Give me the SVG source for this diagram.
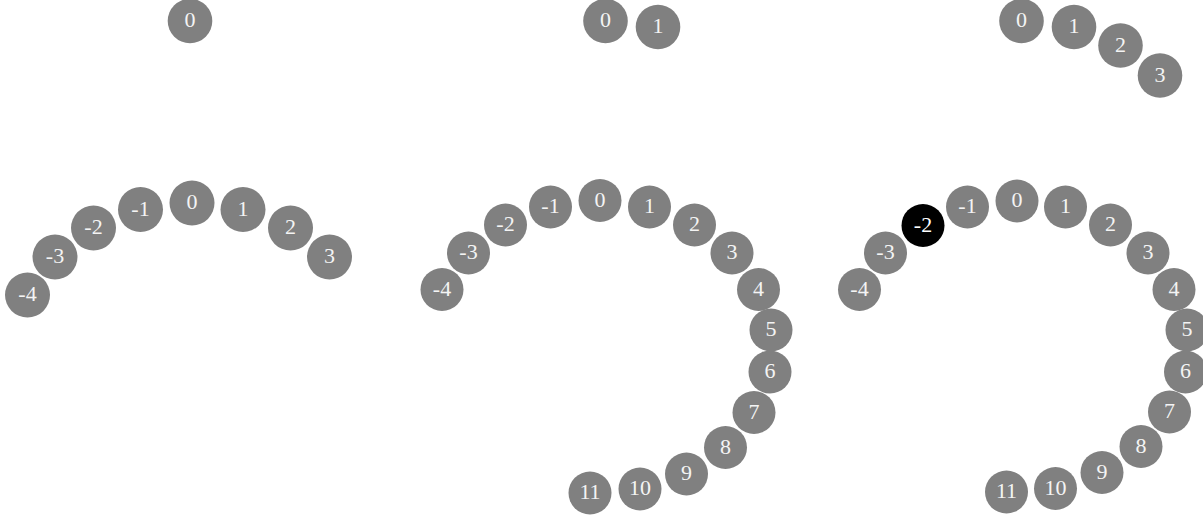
<svg xmlns="http://www.w3.org/2000/svg" width="1203" height="518" viewBox="0 0 1203 518">
<style>
.n circle{fill:#808080}
.n.sel circle{fill:#000000}
.n text{fill:#f4f4f4;font-family:"Liberation Serif","DejaVu Serif",serif;font-size:22px;text-anchor:middle;dominant-baseline:central}
.n.sel text{fill:#ffffff}
</style>
<rect width="1203" height="518" fill="#ffffff"/>
<!-- panel 1 -->
<g id="p1">
<g id="p1-n0" class="n"><circle cx="190" cy="21" r="22.3"/><text x="190" y="19.5">0</text></g>
</g>
<!-- panel 2 -->
<g id="p2">
<g id="p2-n0" class="n"><circle cx="605.5" cy="21" r="22.3"/><text x="605.5" y="19.5">0</text></g>
<g id="p2-n1" class="n"><circle cx="658" cy="27" r="22.3"/><text x="658" y="25.5">1</text></g>
</g>
<!-- panel 3 -->
<g id="p3">
<g id="p3-n0" class="n"><circle cx="1021.5" cy="21" r="22.3"/><text x="1021.5" y="19.5">0</text></g>
<g id="p3-n1" class="n"><circle cx="1074" cy="27" r="22.3"/><text x="1074" y="25.5">1</text></g>
<g id="p3-n2" class="n"><circle cx="1120.5" cy="45.5" r="22.3"/><text x="1120.5" y="44">2</text></g>
<g id="p3-n3" class="n"><circle cx="1160" cy="75.5" r="22.3"/><text x="1160" y="74">3</text></g>
</g>
<!-- panel 4 -->
<g id="p4">
<g id="p4-nm4" class="n"><circle cx="27.5" cy="295" r="22.5"/><text x="27.5" y="293.5">-4</text></g>
<g id="p4-nm3" class="n"><circle cx="55" cy="257" r="22.5"/><text x="55" y="255.5">-3</text></g>
<g id="p4-nm2" class="n"><circle cx="93.5" cy="228" r="22.5"/><text x="93.5" y="226.5">-2</text></g>
<g id="p4-nm1" class="n"><circle cx="140.5" cy="209.5" r="22.5"/><text x="140.5" y="208">-1</text></g>
<g id="p4-n0" class="n"><circle cx="192" cy="203" r="22.5"/><text x="192" y="201.5">0</text></g>
<g id="p4-n1" class="n"><circle cx="243" cy="209.5" r="22.5"/><text x="243" y="208">1</text></g>
<g id="p4-n2" class="n"><circle cx="290.5" cy="228" r="22.5"/><text x="290.5" y="226.5">2</text></g>
<g id="p4-n3" class="n"><circle cx="329.5" cy="257" r="22.5"/><text x="329.5" y="255.5">3</text></g>
</g>
<!-- panel 5 -->
<g id="p5">
<g id="p5-nm4" class="n"><circle cx="442" cy="289.5" r="21.5"/><text x="442" y="288">-4</text></g>
<g id="p5-nm3" class="n"><circle cx="468.5" cy="253" r="21.5"/><text x="468.5" y="251.5">-3</text></g>
<g id="p5-nm2" class="n"><circle cx="505.5" cy="225" r="21.5"/><text x="505.5" y="223.5">-2</text></g>
<g id="p5-nm1" class="n"><circle cx="550.5" cy="207" r="21.5"/><text x="550.5" y="205.5">-1</text></g>
<g id="p5-n0" class="n"><circle cx="600" cy="200.5" r="21.5"/><text x="600" y="199">0</text></g>
<g id="p5-n1" class="n"><circle cx="649.5" cy="207" r="21.5"/><text x="649.5" y="205.5">1</text></g>
<g id="p5-n2" class="n"><circle cx="694.5" cy="225" r="21.5"/><text x="694.5" y="223.5">2</text></g>
<g id="p5-n3" class="n"><circle cx="732" cy="253" r="21.5"/><text x="732" y="251.5">3</text></g>
<g id="p5-n4" class="n"><circle cx="758.5" cy="289.5" r="21.5"/><text x="758.5" y="288">4</text></g>
<g id="p5-n5" class="n"><circle cx="771" cy="330" r="21.5"/><text x="771" y="328.5">5</text></g>
<g id="p5-n6" class="n"><circle cx="770" cy="372" r="21.5"/><text x="770" y="370.5">6</text></g>
<g id="p5-n7" class="n"><circle cx="754" cy="412.5" r="21.5"/><text x="754" y="411">7</text></g>
<g id="p5-n8" class="n"><circle cx="725.5" cy="447.5" r="21.5"/><text x="725.5" y="446">8</text></g>
<g id="p5-n9" class="n"><circle cx="686.5" cy="474" r="21.5"/><text x="686.5" y="472.5">9</text></g>
<g id="p5-n10" class="n"><circle cx="640" cy="489" r="21.5"/><text x="640" y="487.5">10</text></g>
<g id="p5-n11" class="n"><circle cx="590" cy="493" r="21.5"/><text x="590" y="491.5">11</text></g>
</g>
<!-- panel 6 -->
<g id="p6">
<g id="p6-nm4" class="n"><circle cx="859.5" cy="289.5" r="21.5"/><text x="859.5" y="288">-4</text></g>
<g id="p6-nm3" class="n"><circle cx="885.5" cy="253" r="21.5"/><text x="885.5" y="251.5">-3</text></g>
<g id="p6-nm2" class="n sel"><circle cx="923" cy="225.5" r="21.5"/><text x="923" y="224">-2</text></g>
<g id="p6-nm1" class="n"><circle cx="967.5" cy="207" r="21.5"/><text x="967.5" y="205.5">-1</text></g>
<g id="p6-n0" class="n"><circle cx="1017" cy="201" r="21.5"/><text x="1017" y="199.5">0</text></g>
<g id="p6-n1" class="n"><circle cx="1065.5" cy="207" r="21.5"/><text x="1065.5" y="205.5">1</text></g>
<g id="p6-n2" class="n"><circle cx="1110.5" cy="225" r="21.5"/><text x="1110.5" y="223.5">2</text></g>
<g id="p6-n3" class="n"><circle cx="1148" cy="253" r="21.5"/><text x="1148" y="251.5">3</text></g>
<g id="p6-n4" class="n"><circle cx="1174" cy="289.5" r="21.5"/><text x="1174" y="288">4</text></g>
<g id="p6-n5" class="n"><circle cx="1187" cy="330" r="21.5"/><text x="1187" y="328.5">5</text></g>
<g id="p6-n6" class="n"><circle cx="1185.5" cy="372" r="21.5"/><text x="1185.5" y="370.5">6</text></g>
<g id="p6-n7" class="n"><circle cx="1169.5" cy="412" r="21.5"/><text x="1169.5" y="410.5">7</text></g>
<g id="p6-n8" class="n"><circle cx="1141" cy="446.5" r="21.5"/><text x="1141" y="445">8</text></g>
<g id="p6-n9" class="n"><circle cx="1102" cy="472.5" r="21.5"/><text x="1102" y="471">9</text></g>
<g id="p6-n10" class="n"><circle cx="1055.5" cy="488.5" r="21.5"/><text x="1055.5" y="487">10</text></g>
<g id="p6-n11" class="n"><circle cx="1006.5" cy="492" r="21.5"/><text x="1006.5" y="490.5">11</text></g>
</g>
<g id="connectors"/>
</svg>
